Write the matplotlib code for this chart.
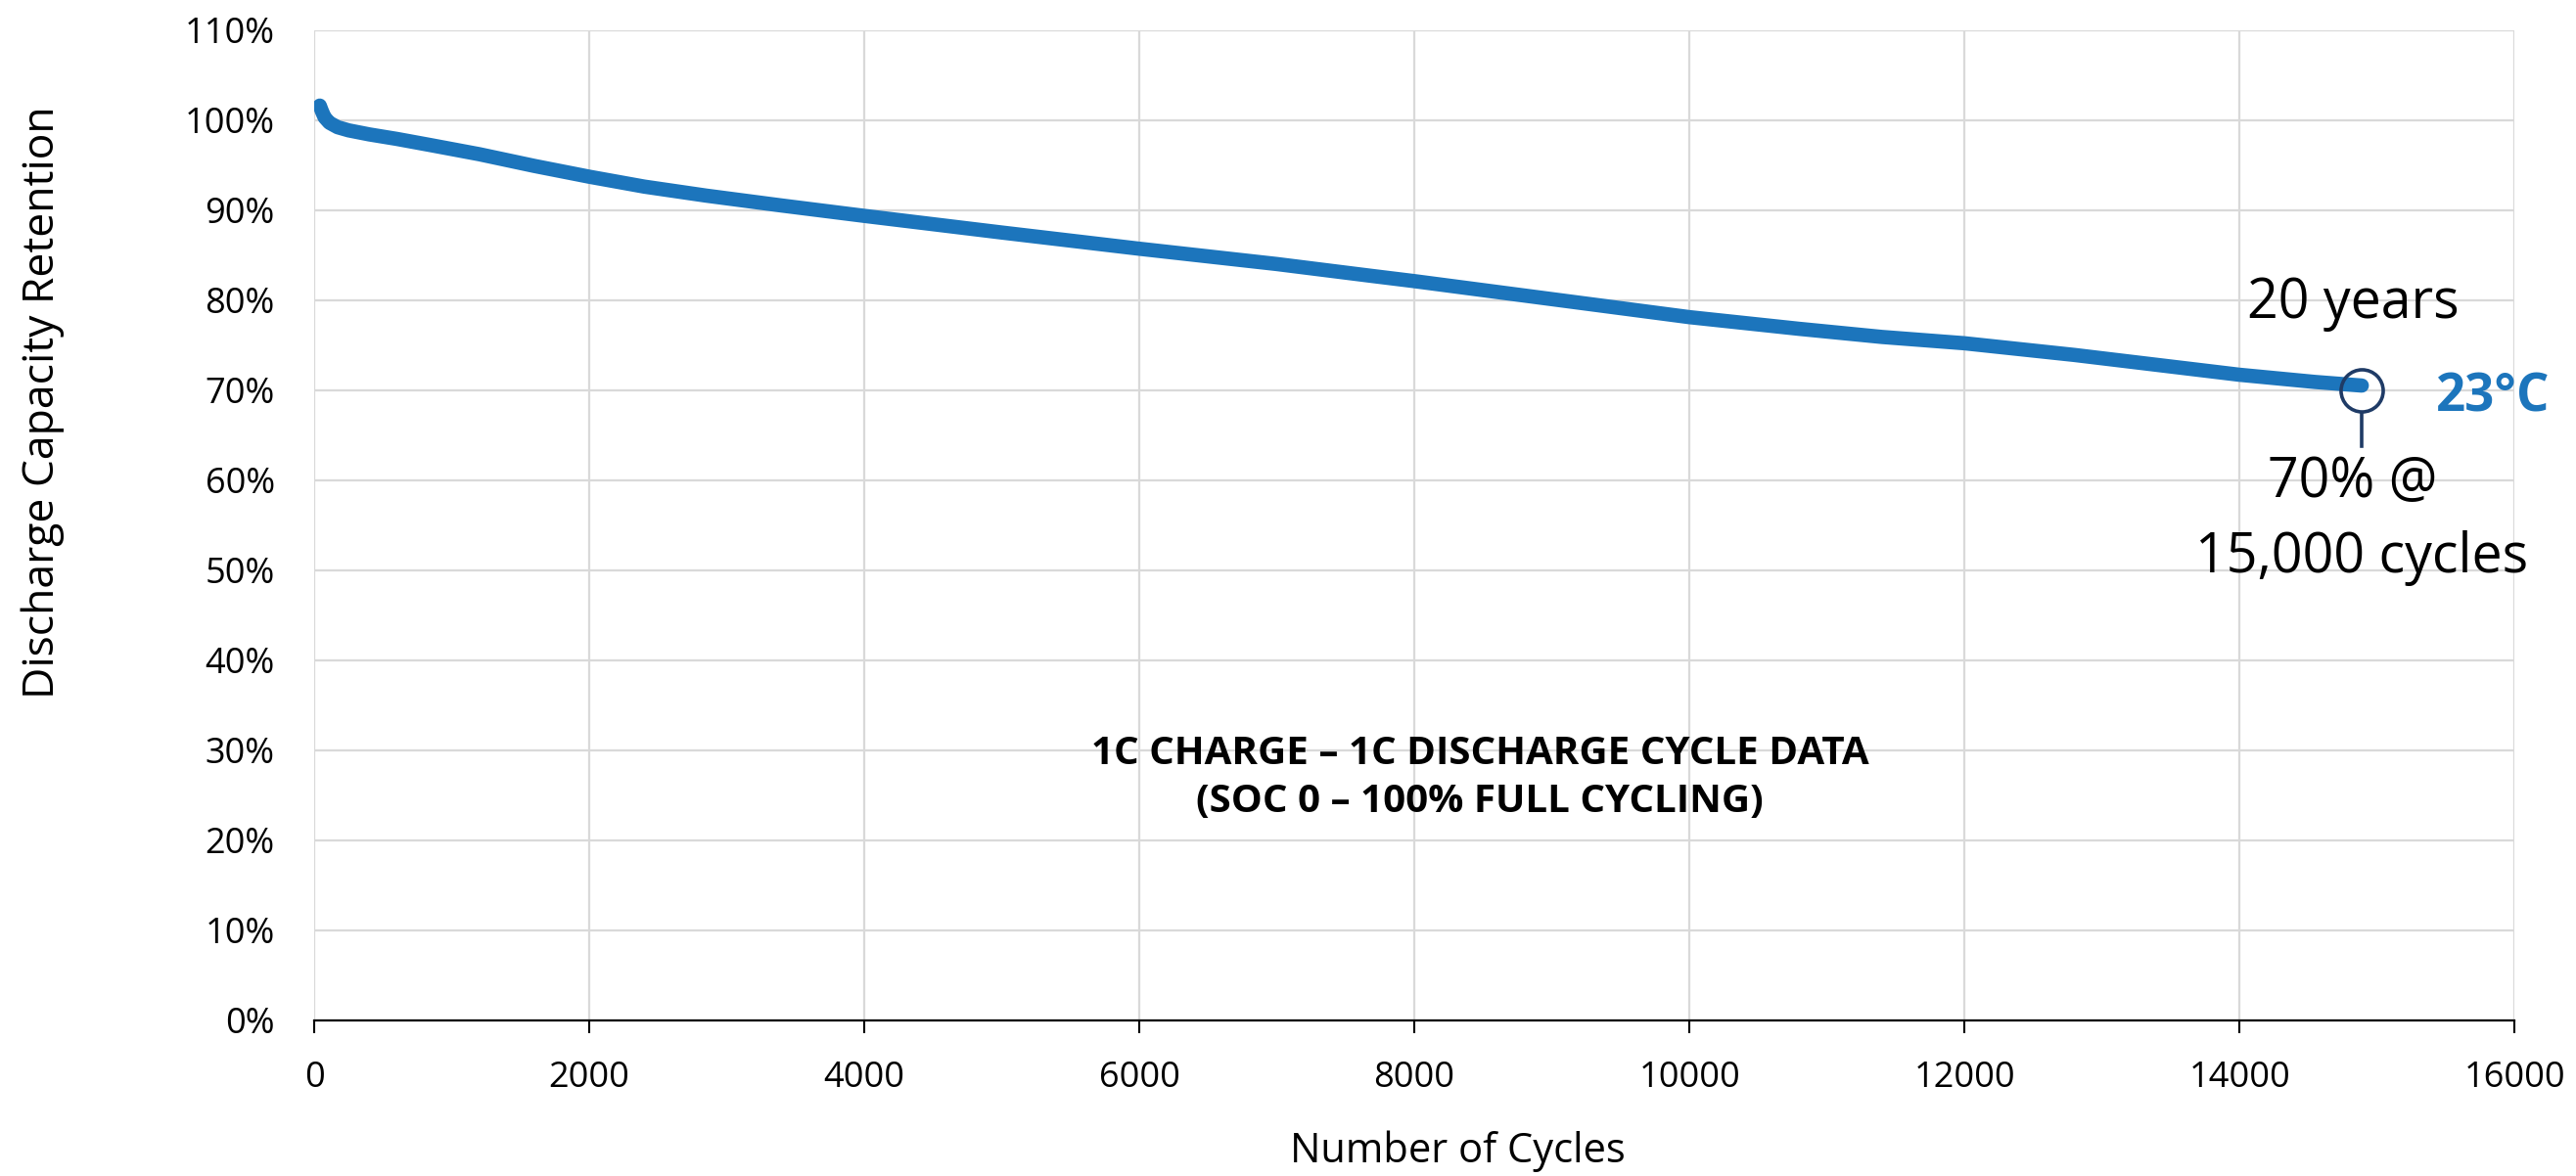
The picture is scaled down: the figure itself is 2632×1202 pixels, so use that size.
import matplotlib
matplotlib.use("Agg")
import matplotlib.pyplot as plt
from matplotlib.ticker import FuncFormatter

plt.rcParams['font.family'] = ['Open Sans', 'DejaVu Sans']

# capacity retention curve
cycles = [40, 55, 75, 110, 170, 250, 400, 600, 850, 1200, 1600, 2000, 2400,
          2850, 3400, 4000, 5000, 6000, 7000, 7680, 8000, 9000, 10000, 10800,
          11400, 12000, 12800, 13400, 14000, 14550, 14890]
retention = [101.6, 101.0, 100.3, 99.7, 99.2, 98.85, 98.4, 97.9, 97.2, 96.2,
             94.9, 93.7, 92.6, 91.6, 90.5, 89.35, 87.5, 85.7, 84.0, 82.7,
             82.1, 80.1, 78.1, 76.8, 75.9, 75.2, 73.9, 72.8, 71.7, 70.9, 70.5]

end_cycles = 14890
end_retention = 70.0

x_ticks = [0, 2000, 4000, 6000, 8000, 10000, 12000, 14000, 16000]
y_ticks = [0, 10, 20, 30, 40, 50, 60, 70, 80, 90, 100, 110]

line_blue = '#1c75bc'
navy = '#1f3b66'

fig = plt.figure(figsize=(26.32, 12.02), dpi=100)
ax = fig.add_axes([0.1220, 0.1325, 0.8541, 0.8420])

ax.plot(cycles, retention, color=line_blue, lw=10.5,
        solid_capstyle='round', solid_joinstyle='round', zorder=3)

# end-of-life marker with a short stem below it
ax.plot([end_cycles], [end_retention], marker='o', ms=31, mfc='none',
        mec=navy, mew=2.6, zorder=4)
ax.plot([end_cycles, end_cycles], [67.4, 63.8], color=navy, lw=2.6, zorder=4)

ax.text(14830, 77.97, '20 years', fontsize=40, ha='center', va='baseline')
ax.text(15431, 67.65, '23°C', fontsize=38, fontweight='bold',
        color=line_blue, ha='left', va='baseline')
ax.text(14823, 58.1, '70% @', fontsize=40, ha='center', va='baseline')
ax.text(14890, 49.7, '15,000 cycles', fontsize=40, ha='center', va='baseline')

ax.text(8477, 26.9, '1C CHARGE – 1C DISCHARGE CYCLE DATA\n(SOC 0 – 100% FULL CYCLING)',
        fontsize=29, fontweight='bold', ha='center', va='center',
        linespacing=1.35)

ax.set_xlim(0, 16000)
ax.set_ylim(0, 110)
ax.set_xticks(x_ticks)
ax.set_yticks(y_ticks)
ax.yaxis.set_major_formatter(FuncFormatter(lambda v, p: f'{v:.0f}%'))

ax.grid(True, color='#d9d9d9', lw=1.6)
ax.set_axisbelow(True)
for side in ['left', 'right', 'top']:
    ax.spines[side].set_visible(False)
ax.spines['bottom'].set_color('black')
ax.spines['bottom'].set_linewidth(1.6)
ax.spines['bottom'].set_zorder(5)

ax.tick_params(axis='x', direction='out', length=9.5, width=1.5,
               labelsize=26, pad=20)
ax.tick_params(axis='y', length=0, labelsize=26, pad=29)

fig.text(44 / 2632, 1 - 411 / 1202, 'Discharge Capacity Retention',
         rotation=90, fontsize=32, ha='center', va='center')
fig.text(1489 / 2632, 1 - 1177 / 1202, 'Number of Cycles',
         fontsize=30, ha='center', va='center')

fig.savefig('out.png', dpi=100, facecolor='white')
